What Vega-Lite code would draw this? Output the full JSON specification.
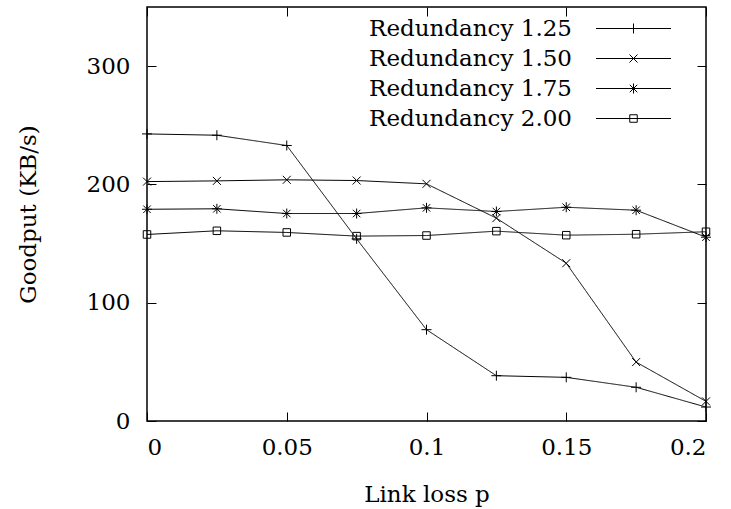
{
  "$schema": "https://vega.github.io/schema/vega-lite/v6.json",
  "width": 559,
  "height": 414,
  "autosize": {"type": "none"},
  "padding": {"left": 147, "top": 7, "right": 25, "bottom": 88},
  "background": "white",
  "config": {
    "font": "DejaVu Serif",
    "view": {"stroke": "black", "strokeWidth": 1.5},
    "axis": {"grid": false, "domain": false, "tickColor": "black", "labelColor": "black", "titleColor": "black", "labelFont": "DejaVu Serif", "titleFont": "DejaVu Serif", "labelFontSize": 23, "titleFontSize": 23, "titleFontWeight": "normal", "tickSize": -9, "tickWidth": 1}
  },
  "data": {"values": [
    {"p": 0, "g": 242.7, "r": "Redundancy 1.25"},
    {"p": 0.025, "g": 241.6, "r": "Redundancy 1.25"},
    {"p": 0.05, "g": 232.9, "r": "Redundancy 1.25"},
    {"p": 0.075, "g": 154.0, "r": "Redundancy 1.25"},
    {"p": 0.1, "g": 77.2, "r": "Redundancy 1.25"},
    {"p": 0.125, "g": 38.3, "r": "Redundancy 1.25"},
    {"p": 0.15, "g": 36.9, "r": "Redundancy 1.25"},
    {"p": 0.175, "g": 28.5, "r": "Redundancy 1.25"},
    {"p": 0.2, "g": 11.8, "r": "Redundancy 1.25"},
    {"p": 0, "g": 202.4, "r": "Redundancy 1.50"},
    {"p": 0.025, "g": 203.0, "r": "Redundancy 1.50"},
    {"p": 0.05, "g": 203.9, "r": "Redundancy 1.50"},
    {"p": 0.075, "g": 203.3, "r": "Redundancy 1.50"},
    {"p": 0.1, "g": 200.5, "r": "Redundancy 1.50"},
    {"p": 0.125, "g": 171.5, "r": "Redundancy 1.50"},
    {"p": 0.15, "g": 133.4, "r": "Redundancy 1.50"},
    {"p": 0.175, "g": 49.8, "r": "Redundancy 1.50"},
    {"p": 0.2, "g": 16.6, "r": "Redundancy 1.50"},
    {"p": 0, "g": 179.0, "r": "Redundancy 1.75"},
    {"p": 0.025, "g": 179.4, "r": "Redundancy 1.75"},
    {"p": 0.05, "g": 175.4, "r": "Redundancy 1.75"},
    {"p": 0.075, "g": 175.4, "r": "Redundancy 1.75"},
    {"p": 0.1, "g": 180.2, "r": "Redundancy 1.75"},
    {"p": 0.125, "g": 177.1, "r": "Redundancy 1.75"},
    {"p": 0.15, "g": 180.7, "r": "Redundancy 1.75"},
    {"p": 0.175, "g": 178.2, "r": "Redundancy 1.75"},
    {"p": 0.2, "g": 155.4, "r": "Redundancy 1.75"},
    {"p": 0, "g": 157.7, "r": "Redundancy 2.00"},
    {"p": 0.025, "g": 160.8, "r": "Redundancy 2.00"},
    {"p": 0.05, "g": 159.4, "r": "Redundancy 2.00"},
    {"p": 0.075, "g": 156.3, "r": "Redundancy 2.00"},
    {"p": 0.1, "g": 156.8, "r": "Redundancy 2.00"},
    {"p": 0.125, "g": 160.5, "r": "Redundancy 2.00"},
    {"p": 0.15, "g": 157.1, "r": "Redundancy 2.00"},
    {"p": 0.175, "g": 157.9, "r": "Redundancy 2.00"},
    {"p": 0.2, "g": 160.0, "r": "Redundancy 2.00"}
  ]},
  "layer": [
    {
      "mark": {"type": "line", "color": "black", "strokeWidth": 1},
      "encoding": {
        "x": {"field": "p", "type": "quantitative", "scale": {"domain": [0, 0.2], "nice": false, "zero": false},
              "axis": {"orient": "bottom", "values": [0, 0.05, 0.1, 0.15, 0.2], "format": "~g", "title": "Link loss p", "labelPadding": 24, "titlePadding": 24}},
        "y": {"field": "g", "type": "quantitative", "scale": {"domain": [0, 350], "nice": false},
              "axis": {"orient": "left", "values": [0, 100, 200, 300], "title": "Goodput (KB/s)", "labelPadding": 26, "titlePadding": 46}},
        "strokeDash": {"field": "r", "type": "nominal",
          "scale": {"domain": ["Redundancy 1.25", "Redundancy 1.50", "Redundancy 1.75", "Redundancy 2.00", "none"], "range": [[1, 0], [1, 0], [1, 0], [1, 0], [1, 0]]},
          "legend": {"title": null, "orient": "none", "legendX": 475, "legendY": 10, "values": ["Redundancy 1.25", "Redundancy 1.50", "Redundancy 1.75", "Redundancy 2.00"], "labelExpr": "' '", "labelFontSize": 23, "labelFont": "DejaVu Serif", "labelOffset": 4, "symbolType": "M-7.5,0L7.5,0", "symbolSize": 100, "symbolStrokeColor": "black", "symbolFillColor": "transparent", "symbolStrokeWidth": 1, "rowPadding": 6}
        }
      }
    },
    {
      "mark": {"type": "point", "filled": false, "stroke": "black", "strokeWidth": 1, "size": 100, "opacity": 1},
      "encoding": {
        "x": {"field": "p", "type": "quantitative", "axis": {"orient": "top", "values": [0, 0.05, 0.1, 0.15, 0.2], "labels": false, "title": null}},
        "y": {"field": "g", "type": "quantitative", "axis": {"orient": "right", "values": [0, 100, 200, 300], "labels": false, "title": null}},
        "shape": {"field": "r", "type": "nominal",
          "scale": {"domain": ["Redundancy 1.25", "Redundancy 1.50", "Redundancy 1.75", "Redundancy 2.00"],
                    "range": ["M-1,0L1,0M0,-1L0,1", "M-0.8,-0.8L0.8,0.8M-0.8,0.8L0.8,-0.8", "M-1,0L1,0M0,-1L0,1M-0.75,-0.75L0.75,0.75M-0.75,0.75L0.75,-0.75", "M-0.75,-0.75L0.75,-0.75L0.75,0.75L-0.75,0.75Z"]},
          "legend": {"title": null, "orient": "none", "legendX": 475, "legendY": 10, "labelFontSize": 23, "labelFont": "DejaVu Serif", "labelColor": "black", "labelLimit": 400, "labelAlign": "right", "labelOffset": -73, "symbolSize": 100, "symbolStrokeColor": "black", "symbolFillColor": "white", "symbolStrokeWidth": 1, "rowPadding": 6}
        }
      }
    }
  ],
  "resolve": {"axis": {"x": "independent", "y": "independent"}}
}
